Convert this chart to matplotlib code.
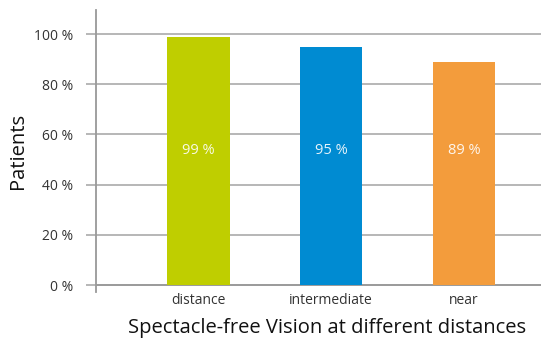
import matplotlib.pyplot as plt

categories = ["distance", "intermediate", "near"]
values = [99, 95, 89]
labels = ["99 %", "95 %", "89 %"]
colors = ["#BFCE00", "#008BD2", "#F39C3C"]
yticks = [0, 20, 40, 60, 80, 100]
ytick_labels = ["0 %", "20 %", "40 %", "60 %", "80 %", "100 %"]

plt.rcParams['font.family'] = ['Open Sans', 'DejaVu Sans']

fig = plt.figure(figsize=(5.41, 3.42), dpi=100)
ax = fig.add_axes([0.1775, 0.146, 0.8225, 0.825])

x = range(len(categories))
ax.bar(x, values, width=0.47, color=colors, zorder=3)
# value labels sit at the same height inside each bar
for i, v in enumerate(values):
    ax.text(i, 53.7, labels[i], ha="center", va="center",
            color="white", fontsize=10.5, alpha=0.9, zorder=4)

ax.set_xlim(-0.77, 2.58)
ax.set_ylim(-2.8, 109.6)
ax.set_yticks(yticks)
ax.set_yticklabels(ytick_labels, fontsize=10, color="#333333")
ax.set_xticks(list(x))
ax.set_xticklabels(categories, fontsize=10, color="#333333")

for y in yticks:
    ax.axhline(y, color="#aaaaaa", lw=1.2, zorder=1)
ax.axhline(0, color="#999999", lw=1.3, zorder=2)

ax.tick_params(axis="y", length=7.2, color="#aaaaaa", width=1.2, pad=9)
ax.tick_params(axis="x", length=0, pad=1)
for s in ["top", "right", "bottom"]:
    ax.spines[s].set_visible(False)
ax.spines["left"].set_color("#999999")
ax.spines["left"].set_linewidth(1.3)

ax.set_ylabel("Patients", fontsize=14.5, color="#111111", va="center")
ax.yaxis.set_label_coords(-0.175, 0.5)
ax.set_xlabel("Spectacle-free Vision at different distances", fontsize=14.5,
              color="#111111", va="center")
ax.xaxis.set_label_coords(0.52, -0.128)

fig.savefig("out.png", dpi=100)
